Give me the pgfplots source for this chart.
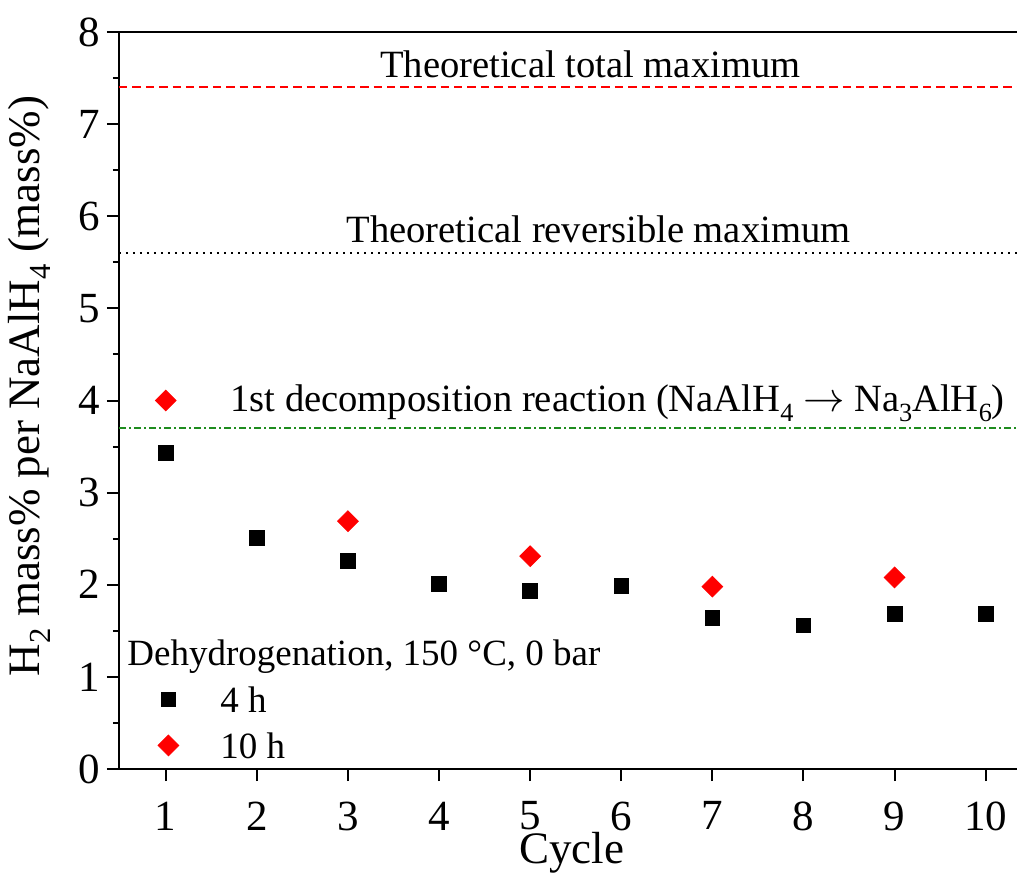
\documentclass[border=0pt]{standalone}
\usepackage{fontspec}
\setmainfont{Liberation Serif}
\usepackage{graphicx}
\usepackage{pgfplots}
\pgfplotsset{compat=1.18}
\definecolor{refgreen}{RGB}{30,140,30}
\definecolor{refred}{RGB}{255,0,0}
\newcommand\sub[1]{\raisebox{-0.55ex}{\scalebox{0.68}{#1}}}
\begin{document}
\begin{tikzpicture}
\pgfplotsset{
  myleg/.style={legend image code/.code={\path[draw=none,fill=none] (0pt,-5pt) rectangle (39pt,5pt);\draw[mark repeat=2,mark phase=2,##1] plot coordinates {(0pt,0pt)(13pt,0pt)(39pt,0pt)};}},
}
\begin{axis}[
  name=ax, at={(0,0)}, anchor=south west,
  scale only axis, width=449pt, height=368.5pt,
  xmin=0.487, xmax=10.344, ymin=0, ymax=8,
  axis lines*=left, x axis line style={-}, y axis line style={-},
  axis line style={line width=1pt},
  tick align=outside, major tick length=6pt, minor tick length=3pt,
  every tick/.style={black, line width=1pt},
  xtick={1,2,3,4,5,6,7,8,9,10}, ytick={0,1,2,3,4,5,6,7,8},
  minor y tick num=1, minor x tick num=0,
  tick label style={font=\fontsize{21.5}{25}\selectfont},
  xticklabel style={inner sep=0pt, yshift=-10.2pt},
  /pgf/number format/assume math mode=true,
  xlabel={Cycle},
  ylabel={H\sub{2} mass\% per NaAlH\sub{4} (mass\%)},
  label style={font=\fontsize{22.5}{26}\selectfont},
  xlabel style={at={(rel axis cs:0.504,-0.128)}, anchor=base, inner sep=0pt},
  ylabel style={at={(rel axis cs:-0.1, 0.52)}, anchor=center},
  clip=false,
  legend style={at={(rel axis cs:0.0256,0.1126)}, anchor=north west,
    draw=none, fill=none, inner xsep=0pt, inner ysep=0pt,
    row sep=10pt, column sep=0pt,
    nodes={inner sep=0pt, text height=13pt, text depth=0pt, font=\fontsize{18.5}{22}\selectfont}},
  legend cell align=left,
]
\addplot[color=refgreen, mark=none, line width=0.75pt, dash pattern=on 3.5pt off 1.5pt on 1pt off 1.5pt, forget plot] coordinates {(0.487,3.7) (10.344,3.7)};
\addplot[color=black, mark=none, line width=0.75pt, dash pattern=on 1pt off 2.5pt, forget plot] coordinates {(0.487,5.6) (10.344,5.6)};
\addplot[color=refred, mark=none, line width=0.85pt, dash pattern=on 4.2pt off 2.5pt, forget plot] coordinates {(0.487,7.4) (10.344,7.4)};

\addplot[only marks, mark=square*, mark size=3.67pt, black, mark options={fill=black, draw=black}, myleg] coordinates {
(1,3.43) (2,2.51) (3,2.26) (4,2.01) (5,1.93) (6,1.99) (7,1.64) (8,1.56) (9,1.68) (10,1.68)};
\addlegendentry{4 h}
\addplot[only marks, mark=square*, mark size=3.67pt, refred, mark options={rotate=45, fill=refred, draw=refred}, myleg] coordinates {
(1,4.00) (3,2.69) (5,2.31) (7,1.98) (9,2.08)};
\addlegendentry{10 h}

\draw[line width=1pt] (rel axis cs:0,1) -- (rel axis cs:1,1);
\node[anchor=base, inner sep=0pt, font=\fontsize{19.3}{23}\selectfont] at (axis cs:5.66,7.51) {Theoretical total maximum};
\node[anchor=base, inner sep=0pt, font=\fontsize{19.3}{23}\selectfont] at (axis cs:5.75,5.71) {Theoretical reversible maximum};
\node[anchor=base, inner sep=0pt, font=\fontsize{19.3}{23}\selectfont] at (axis cs:5.96,3.88) {1st decomposition reaction (NaAlH\sub{4} $\rightarrow$ Na\sub{3}AlH\sub{6})};
\node[anchor=base west, inner sep=0pt, font=\fontsize{18.5}{22}\selectfont] at (rel axis cs:0.0089,0.1411) {Dehydrogenation, 150 °C, 0 bar};
\end{axis}
\pgfresetboundingbox
\path[use as bounding box] (-59.5pt,-52.5pt) rectangle (449pt,384.5pt);
\end{tikzpicture}
\end{document}
